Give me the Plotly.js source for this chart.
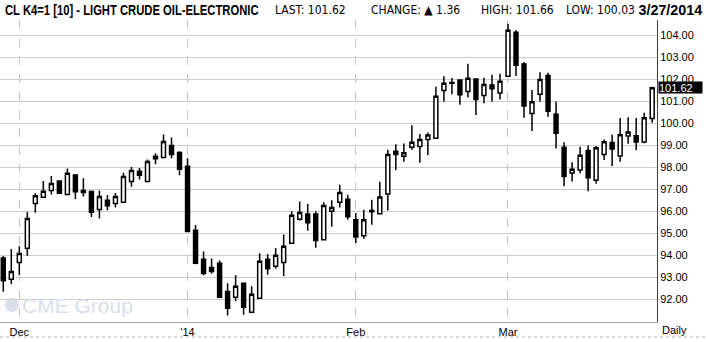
<!DOCTYPE html>
<html>
<head>
<meta charset="utf-8">
<script src="https://cdn.plot.ly/plotly-3.0.1.min.js"></script>
<style>html,body{margin:0;padding:0;background:#fff;}#chart{width:707px;height:342px;}</style>
</head>
<body>
<div id="chart"></div>
<script>
const dates = [
"2013-11-27","2013-11-29",
"2013-12-02","2013-12-03","2013-12-04","2013-12-05","2013-12-06","2013-12-09","2013-12-10","2013-12-11","2013-12-12","2013-12-13",
"2013-12-16","2013-12-17","2013-12-18","2013-12-19","2013-12-20","2013-12-23","2013-12-24","2013-12-26","2013-12-27","2013-12-30","2013-12-31",
"2014-01-02","2014-01-03","2014-01-06","2014-01-07","2014-01-08","2014-01-09","2014-01-10","2014-01-13","2014-01-14","2014-01-15","2014-01-16",
"2014-01-17","2014-01-21","2014-01-22","2014-01-23","2014-01-24","2014-01-27","2014-01-28","2014-01-29","2014-01-30","2014-01-31",
"2014-02-03","2014-02-04","2014-02-05","2014-02-06","2014-02-07","2014-02-10","2014-02-11","2014-02-12","2014-02-13","2014-02-14",
"2014-02-18","2014-02-19","2014-02-20","2014-02-21","2014-02-24","2014-02-25","2014-02-26","2014-02-27","2014-02-28",
"2014-03-03","2014-03-04","2014-03-05","2014-03-06","2014-03-07","2014-03-10","2014-03-11","2014-03-12","2014-03-13","2014-03-14",
"2014-03-17","2014-03-18","2014-03-19","2014-03-20","2014-03-21","2014-03-24","2014-03-25","2014-03-26","2014-03-27"
];
const opens = [
93.88,92.91,93.67,94.32,96.36,96.64,96.95,97.38,96.77,97.65,96.86,96.90,
96.09,96.50,96.36,96.41,97.36,97.82,97.36,98.50,98.45,99.00,98.68,
98.05,95.14,93.82,93.45,93.64,92.36,92.09,92.73,91.41,92.05,93.82,
93.50,93.68,94.55,95.64,95.88,95.88,94.71,96.00,96.41,96.55,
95.62,94.89,96.04,95.89,96.79,98.73,98.50,98.91,98.95,99.27,
99.32,101.50,101.86,101.97,101.45,102.02,101.27,101.74,101.38,
102.14,104.14,102.70,100.45,101.32,102.18,100.41,98.91,97.74,97.88,
98.77,97.41,98.58,99.13,98.52,99.43,99.44,99.15,100.22
];
const highs = [
93.97,94.29,94.41,95.97,96.82,97.38,97.61,97.42,97.95,97.70,97.50,96.95,
96.95,96.74,96.83,97.76,98.02,97.97,98.36,98.64,99.50,99.36,98.73,
98.41,95.38,94.18,93.86,93.77,92.73,93.09,92.73,92.59,94.09,94.06,
94.33,94.95,96.00,96.45,96.33,96.00,96.41,96.50,97.21,96.75,
95.93,96.07,96.53,97.35,98.80,99.05,99.09,99.92,99.52,99.58,
101.66,102.14,102.06,101.99,102.71,102.04,102.08,102.21,102.26,
104.53,104.23,102.79,101.52,102.33,102.30,101.00,99.14,98.23,98.94,
99.00,98.97,99.27,99.50,100.25,100.28,100.25,100.48,101.66
];
const lows = [
92.35,92.70,93.12,93.98,95.94,96.64,96.77,96.79,96.77,96.55,96.67,95.74,
95.68,96.05,96.18,96.41,97.12,97.45,97.36,98.14,98.45,98.41,97.64,
95.09,93.59,93.09,93.18,92.09,91.27,91.91,91.30,91.41,92.05,93.12,
93.39,93.06,94.55,95.58,95.12,94.35,94.71,95.30,96.18,95.62,
94.56,94.76,95.39,95.89,96.04,97.87,98.26,98.80,98.21,98.56,
99.32,100.98,101.32,100.85,101.18,100.38,100.92,101.00,101.08,
102.14,102.15,100.26,99.65,100.98,100.30,98.86,97.14,97.36,97.73,
96.92,97.26,98.34,98.06,98.25,99.07,98.78,99.10,100.03
];
const closes = [
92.85,93.27,94.08,95.68,96.71,96.91,97.27,96.82,97.73,96.89,96.95,95.96,
96.68,96.26,96.68,97.59,97.86,97.64,98.27,98.39,99.18,98.59,97.91,
95.09,93.64,93.18,93.27,92.09,91.59,92.59,91.64,92.23,93.73,93.39,
94.00,94.41,95.82,95.95,95.48,94.67,96.27,96.18,96.86,95.76,
94.83,95.62,95.98,96.65,98.59,98.58,98.67,99.14,99.27,99.47,
101.23,101.83,101.82,101.30,102.05,101.08,101.77,101.58,101.91,
104.23,102.64,100.79,100.98,102.00,100.55,99.55,97.59,97.91,98.55,
97.53,98.89,99.16,98.84,99.48,99.61,99.15,100.26,101.62
];
const monthTickDates = ["2013-12-02","2014-01-02","2014-02-03","2014-03-03"];
const monthTickLabels = ["Dec","'14","Feb","Mar"];
const priceTicks = [92,93,94,95,96,97,98,99,100,101,102,103,104];
const headerTitle = "CL K4=1 [10] - LIGHT CRUDE OIL-ELECTRONIC";
const headerLast = "101.62";
const headerChange = "1.36";
const headerHigh = "101.66";
const headerLow = "100.03";
const headerDate = "3/27/2014";
const lastPrice = 101.62;

const W = 707, H = 342, ML = 0, MR = 50, MT = 20, MB = 20;
const PW = W - ML - MR, PH = H - MT - MB;
const px = v => (v - ML) / PW;
const py = v => (H - MB - v) / PH;

const narrow = "DejaVu Sans Condensed, Liberation Sans Narrow, sans-serif";
const sans = "Liberation Sans, Arial, sans-serif";

const trace = {
  type: 'candlestick',
  x: dates, open: opens, high: highs, low: lows, close: closes,
  increasing: {line: {color: '#000000', width: 1.5}, fillcolor: '#ffffff'},
  decreasing: {line: {color: '#000000', width: 1.5}, fillcolor: '#000000'},
  whiskerwidth: 0,
  hoverinfo: 'skip',
  showlegend: false
};

const hdr = (x, text, size, anchor, weight) => ({
  xref: 'paper', yref: 'paper', x: px(x), y: py(10), xanchor: anchor || 'left', yanchor: 'middle',
  align: 'left', text: text, showarrow: false, borderpad: 0,
  font: {family: weight ? sans : narrow, size: size, color: '#000', weight: weight || 'normal'}
});

const layout = {
  width: W, height: H,
  margin: {l: ML, r: MR, t: MT, b: MB, pad: 0},
  paper_bgcolor: '#ffffff', plot_bgcolor: '#ffffff',
  showlegend: false,
  xaxis: {
    type: 'category', range: [-0.41, 81.6],
    tickvals: monthTickDates, ticktext: monthTickLabels,
    showgrid: true, gridcolor: '#c4c4c4', griddash: 'dash', gridwidth: 1,
    ticks: '', tickfont: {family: sans, size: 11, color: '#000'},
    showline: true, linecolor: '#a8a8a8', linewidth: 1,
    zeroline: false, rangeslider: {visible: false}, fixedrange: true
  },
  yaxis: {
    side: 'right', range: [90.97, 104.70],
    tickvals: priceTicks, ticktext: priceTicks.map(v => v.toFixed(2)),
    showgrid: true, gridcolor: '#cccccc', gridwidth: 1,
    ticks: '', tickfont: {family: sans, size: 11, color: '#000'},
    showline: true, linecolor: '#404040', linewidth: 1,
    zeroline: false, fixedrange: true
  },
  shapes: [
    {type: 'line', xref: 'paper', yref: 'paper', x0: 0, x1: px(707), y0: py(337), y1: py(337),
     line: {color: '#b0b0b0', width: 1, dash: 'dot'}},
    {type: 'circle', xref: 'paper', yref: 'paper', x0: px(5), x1: px(19), y0: py(312), y1: py(298),
     fillcolor: '#d8deea', line: {width: 0}, layer: 'below'}
  ],
  annotations: [
    hdr(4, headerTitle, 14.5, 'left', 'bold'),
    hdr(274, 'LAST: ' + headerLast, 12),
    hdr(370, 'CHANGE: ▲ ' + headerChange, 12),
    hdr(480, 'HIGH: ' + headerHigh, 12),
    hdr(565, 'LOW: ' + headerLow, 12),
    hdr(703, headerDate, 14, 'right', 'bold'),
    {xref: 'paper', yref: 'y', x: 1, xshift: 1, y: lastPrice, xanchor: 'left', yanchor: 'middle',
     text: lastPrice.toFixed(2), showarrow: false, bgcolor: '#000000', borderpad: 0, width: 43, height: 11,
     align: 'left', font: {family: sans, size: 11, color: '#ffffff'}},
    {xref: 'paper', yref: 'paper', x: px(660), y: py(330), xanchor: 'left', yanchor: 'middle',
     text: 'Daily', showarrow: false, font: {family: sans, size: 11, color: '#000'}},
    {xref: 'paper', yref: 'paper', x: px(20), y: py(305), xanchor: 'left', yanchor: 'middle',
     text: 'CME Group', showarrow: false, font: {family: sans, size: 21, color: '#d8deea'}}
  ]
};

// horizontally condense the bold header texts to the reference widths
const squeeze = [[0, 254, 'left'], [5, 64, 'right']];
Plotly.newPlot('chart', [trace], layout, {staticPlot: true, displayModeBar: false}).then(gd => {
  const anns = gd.querySelectorAll('.annotation');
  squeeze.forEach(([idx, len, side]) => {
    const t = anns[idx] && anns[idx].querySelector('text.annotation-text');
    if (!t) return;
    const bb = t.getBBox();
    if (!bb.width) return;
    const sx = len / bb.width;
    const x0 = side === 'left' ? bb.x : bb.x + bb.width;
    const prev = t.getAttribute('transform') || '';
    t.setAttribute('transform', `matrix(${sx},0,0,1,${(1 - sx) * x0},0) ${prev}`.trim());
  });
});
</script>
</body>
</html>
